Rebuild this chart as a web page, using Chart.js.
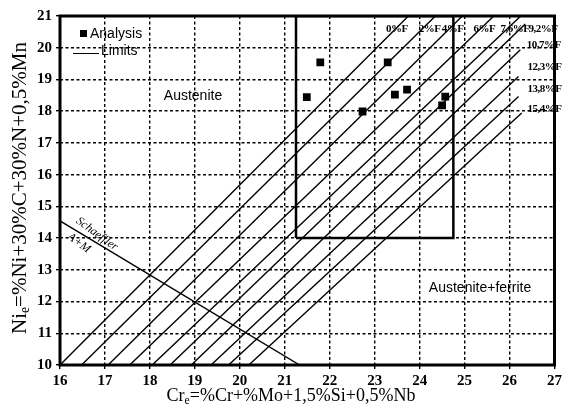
<!DOCTYPE html>
<html>
<head>
<meta charset="utf-8">
<script src="https://cdn.jsdelivr.net/npm/chart.js@4.4.0/dist/chart.umd.min.js"></script>
<style>
  html, body { margin: 0; padding: 0; background: #fff; }
  #wrap { width: 565px; height: 413px; }
</style>
</head>
<body>
<div id="wrap"><canvas id="myChart"></canvas></div>
<script>
// measured samples (Cr_e, Ni_e)
const analysisCr = [21.79, 23.29, 21.49, 23.45, 23.72, 24.57, 24.50, 22.73];
const analysisNi = [19.54, 19.54, 18.44, 18.52, 18.68, 18.46, 18.18, 17.99];

// limits box
const limitsCr = [21.25, 21.25, 24.75, 24.75, 21.25];
const limitsNi = [14, 21, 21, 14, 14];

// iso-ferrite lines: start on Ni_e = 10, end at top / near right edge
const isoLabels = ['0%F', '2%F', '4%F', '6%F', '7,6%F', '9,2%F', '10,7%F', '12,3%F', '13,8%F', '15,4%F'];
const isoStartCr = [16.0, 16.48, 17.07, 17.55, 18.05, 18.45, 18.92, 19.36, 19.75, 20.2];
const isoEndCr = [23.75, 24.35, 24.95, 25.65, 26.25, 26.35, 26.24, 26.2, 26.2, 26.27];
const isoEndNi = [21, 21, 21, 21, 21, 20.75, 19.94, 19.09, 18.46, 17.94];
const isoLabelCr = [23.25, 23.98, 24.49, 25.2, 25.8, 26.42, 26.38, 26.4, 26.4, 26.4];
const isoLabelNi = [20.59, 20.59, 20.59, 20.59, 20.59, 20.59, 20.09, 19.39, 18.70, 18.07];

// Schaeffler A+M boundary
const schaefflerCr = [16, 21.33];
const schaefflerNi = [14.54, 10];

const pts = (xs, ys) => xs.map((x, i) => ({x: x, y: ys[i]}));

const datasets = [];
isoLabels.forEach((lab, i) => {
  datasets.push({
    label: lab,
    data: [{x: isoStartCr[i], y: 10}, {x: isoEndCr[i], y: isoEndNi[i]}],
    showLine: true, borderColor: '#000', borderWidth: 1.4, pointRadius: 0
  });
});
datasets.push({
  label: 'Schaeffler',
  data: pts(schaefflerCr, schaefflerNi),
  showLine: true, borderColor: '#000', borderWidth: 1.4, pointRadius: 0
});
datasets.push({
  label: 'Limits',
  data: pts(limitsCr, limitsNi),
  showLine: true, borderColor: '#000', borderWidth: 2.5, pointRadius: 0
});
datasets.push({
  label: 'Analysis',
  data: pts(analysisCr, analysisNi),
  showLine: false, pointStyle: 'rect', pointRadius: 5.5,
  backgroundColor: '#000', borderWidth: 0
});

// extra drawing: frame, legend, labels, axis titles
const decorations = {
  id: 'decorations',
  afterDatasetsDraw(chart) {
    const {ctx, chartArea: {left, right, top, bottom}, scales: {x, y}} = chart;
    ctx.save();
    ctx.fillStyle = '#000';
    ctx.strokeStyle = '#000';

    // ferrite labels
    ctx.font = 'bold 11px "Liberation Serif"';
    ctx.letterSpacing = '-0.5px';
    ctx.textBaseline = 'middle';
    ctx.textAlign = 'left';
    isoLabels.forEach((lab, i) => {
      ctx.fillText(lab, x.getPixelForValue(isoLabelCr[i]), y.getPixelForValue(isoLabelNi[i]));
    });
    ctx.letterSpacing = '0px';

    // frame
    ctx.lineWidth = 3;
    ctx.strokeRect(left, top, right - left, bottom - top);

    // region names
    ctx.font = '14px "Liberation Sans"';
    ctx.textAlign = 'center';
    ctx.fillText('Austenite', 193, 96);
    ctx.fillText('Austenite+ferrite', 480, 288);

    // legend
    ctx.textAlign = 'left';
    ctx.fillRect(80, 30, 7, 7);
    ctx.fillText('Analysis', 90, 34);
    ctx.lineWidth = 1;
    ctx.beginPath();
    ctx.moveTo(73, 53.5);
    ctx.lineTo(99, 53.5);
    ctx.stroke();
    ctx.fillText('Limits', 101, 51);

    // Schaeffler label
    ctx.font = 'italic 12px "Liberation Serif"';
    ctx.textAlign = 'center';
    ctx.save();
    ctx.translate(97, 234);
    ctx.rotate(36 * Math.PI / 180);
    ctx.fillText('Schaeffler', 0, 0);
    ctx.restore();
    ctx.save();
    ctx.translate(79, 243);
    ctx.rotate(36 * Math.PI / 180);
    ctx.fillText('A+M', 0, 0);
    ctx.restore();

    // axis titles with subscript e
    const drawSub = (main, sub, rest, size) => {
      ctx.font = size + 'px "Liberation Serif"';
      const w1 = ctx.measureText(main).width;
      const w3 = ctx.measureText(rest).width;
      ctx.font = (size * 0.65) + 'px "Liberation Serif"';
      const w2 = ctx.measureText(sub).width;
      let cx = -(w1 + w2 + w3) / 2;
      ctx.font = size + 'px "Liberation Serif"';
      ctx.fillText(main, cx, 0);
      cx += w1;
      ctx.font = (size * 0.65) + 'px "Liberation Serif"';
      ctx.fillText(sub, cx, size * 0.25);
      cx += w2;
      ctx.font = size + 'px "Liberation Serif"';
      ctx.fillText(rest, cx, 0);
    };
    ctx.textAlign = 'left';
    ctx.textBaseline = 'middle';
    ctx.save();
    ctx.translate(291, 396);
    drawSub('Cr', 'e', '=%Cr+%Mo+1,5%Si+0,5%Nb', 18);
    ctx.restore();
    ctx.save();
    ctx.translate(20, 188);
    ctx.rotate(-Math.PI / 2);
    drawSub('Ni', 'e', '=%Ni+30%C+30%N+0,5%Mn', 21);
    ctx.restore();

    ctx.restore();
  }
};

const gridOpts = {color: '#000', lineWidth: 1.4, tickLength: 4};
const tickFont = {family: 'Liberation Serif', size: 15, weight: 'bold'};

const config = {
  type: 'scatter',
  data: {datasets},
  options: {
    responsive: true,
    maintainAspectRatio: false,
    animation: false,
    layout: {padding: {top: 16, right: 9, left: 0, bottom: 0}},
    plugins: {legend: {display: false}, tooltip: {enabled: false}},
    scales: {
      x: {
        type: 'linear', min: 16, max: 27,
        ticks: {stepSize: 1, color: '#000', font: tickFont, padding: 3},
        grid: gridOpts,
        border: {display: false, dash: [3, 2.5]},
        afterFit: s => { s.height = 48; }
      },
      y: {
        type: 'linear', min: 10, max: 21,
        ticks: {stepSize: 1, color: '#000', font: tickFont, padding: 4},
        grid: gridOpts,
        border: {display: false, dash: [3, 2.5]},
        afterFit: s => { s.width = 60; }
      }
    }
  },
  plugins: [decorations]
};

const myChart = new Chart(document.getElementById('myChart'), config);
</script>
</body>
</html>
